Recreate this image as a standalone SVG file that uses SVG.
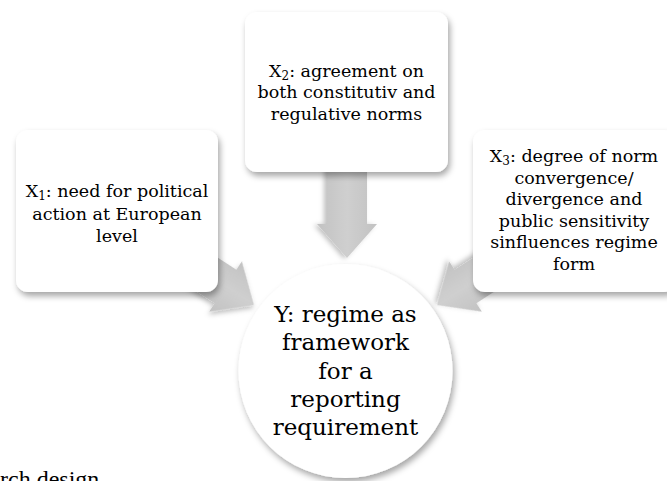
<svg xmlns="http://www.w3.org/2000/svg" width="667" height="481" viewBox="0 0 667 481">
  <defs>
    <filter id="sh" x="-20%" y="-20%" width="140%" height="140%">
      <feDropShadow dx="2" dy="4" stdDeviation="3" flood-color="#000" flood-opacity="0.35"/>
    </filter>
    <filter id="ash" x="-30%" y="-30%" width="160%" height="160%">
      <feDropShadow dx="1" dy="3" stdDeviation="2.5" flood-color="#000" flood-opacity="0.25"/>
    </filter>
    <linearGradient id="ag" x1="0" y1="0" x2="0" y2="1">
      <stop offset="0" stop-color="#c2c2c2"/>
      <stop offset="0.5" stop-color="#cfcfcf"/>
      <stop offset="1" stop-color="#c2c2c2"/>
    </linearGradient>
    <path id="arrow" d="M0,0 L-34,-30 L-34,-20 L-140,-20 L-140,20 L-34,20 L-34,30 Z"/>
  </defs>
  <style>
    .box { fill: #ffffff; filter: url(#sh); }
    .arr { fill: url(#ag); filter: url(#ash); }
    .t { font-family: "DejaVu Serif", "Liberation Serif", serif; font-size: 17.5px; fill: #000; text-anchor: middle; }
    .ty { font-family: "DejaVu Serif", "Liberation Serif", serif; font-size: 23px; fill: #000; text-anchor: middle; }
    .bt { font-family: "Liberation Serif", serif; font-size: 24px; fill: #000; }
  </style>
  <rect width="667" height="481" fill="#ffffff"/>

  <g id="connectors">
    <use href="#arrow" class="arr" transform="translate(347,258) rotate(90)"/>
    <use href="#arrow" class="arr" transform="translate(254,305) rotate(33)"/>
    <use href="#arrow" class="arr" transform="translate(437,305) rotate(147)"/>
  </g>

  <g id="X1">
    <rect class="box" x="16" y="130" width="202" height="162" rx="12"/>
    <text class="t" x="117" y="197">X<tspan font-size="12" dy="3">1</tspan><tspan dy="-3">: need for political</tspan></text>
    <text class="t" x="117" y="220">action at European</text>
    <text class="t" x="117" y="242">level</text>
  </g>

  <g id="X2">
    <rect class="box" x="245" y="12" width="203" height="160" rx="12"/>
    <text class="t" x="346.5" y="77">X<tspan font-size="12" dy="3">2</tspan><tspan dy="-3">: agreement on</tspan></text>
    <text class="t" x="346.5" y="98">both constitutiv and</text>
    <text class="t" x="346.5" y="120">regulative norms</text>
  </g>

  <g id="X3">
    <rect class="box" x="473" y="130" width="203" height="162" rx="12"/>
    <text class="t" x="574" y="162">X<tspan font-size="12" dy="3">3</tspan><tspan dy="-3">: degree of norm</tspan></text>
    <text class="t" x="574" y="184">convergence/</text>
    <text class="t" x="574" y="205">divergence and</text>
    <text class="t" x="574" y="227">public sensitivity</text>
    <text class="t" x="574" y="248">sinfluences regime</text>
    <text class="t" x="574" y="270">form</text>
  </g>

  <g id="Y">
    <circle class="box" cx="345.5" cy="371" r="107"/>
    <text class="ty" x="345.5" y="322">Y: regime as</text>
    <text class="ty" x="345.5" y="350">framework</text>
    <text class="ty" x="345.5" y="379">for a</text>
    <text class="ty" x="345.5" y="407">reporting</text>
    <text class="ty" x="345.5" y="435">requirement</text>
  </g>

  <text class="bt" x="0" y="487">rch design</text>
</svg>
